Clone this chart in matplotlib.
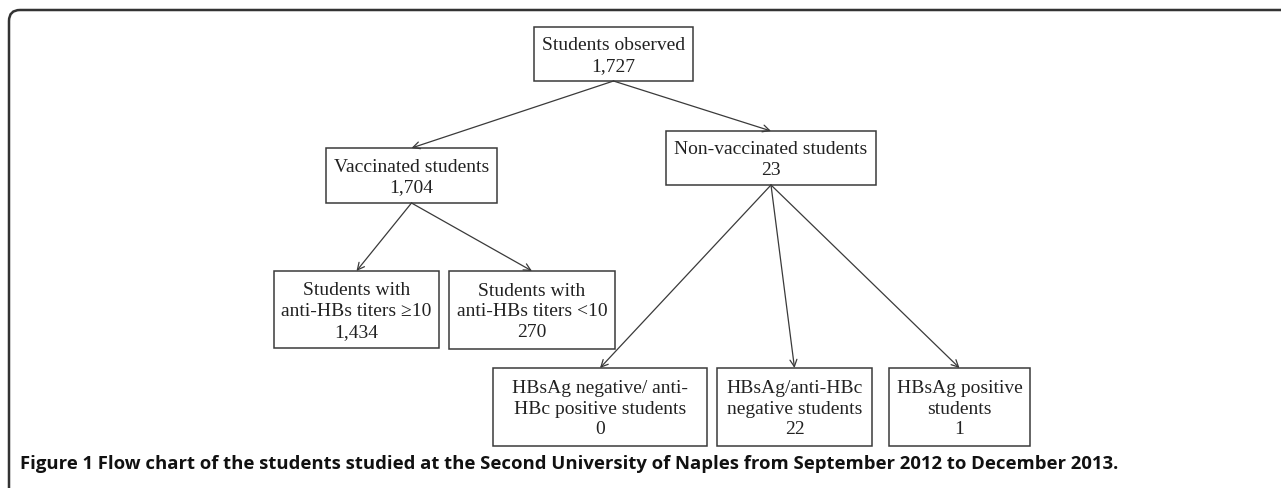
import matplotlib
matplotlib.use("Agg")
import matplotlib.pyplot as plt
from matplotlib.patches import Rectangle, FancyArrowPatch, PathPatch
from matplotlib.path import Path

# ---- data ----
node_labels = [
    "Students observed",
    "Vaccinated students",
    "Non-vaccinated students",
    "Students with\nanti-HBs titers \u226510",
    "Students with\nanti-HBs titers <10",
    "HBsAg negative/ anti-\nHBc positive students",
    "HBsAg/anti-HBc\nnegative students",
    "HBsAg positive\nstudents",
]
node_counts = ["1,727", "1,704", "23", "1,434", "270", "0", "22", "1"]
edges = [(0, 1), (0, 2), (1, 3), (1, 4), (2, 5), (2, 6), (2, 7)]
caption_bold = "Figure 1"
caption_text = " Flow chart of the students studied at the Second University of Naples from September 2012 to December 2013."

# ---- layout (pixel coordinates: x0, x1, y0, y1) ----
boxes = [
    (534, 693, 28, 82),
    (326, 497, 149, 204),
    (666, 876, 132, 186),
    (274, 439, 272, 349),
    (449, 615, 272, 350),
    (493, 707, 369, 447),
    (717, 872, 369, 447),
    (889, 1030, 369, 447),
]

W, H = 1281, 489
fig = plt.figure(figsize=(W / 100, H / 100), dpi=100)
ax = fig.add_axes([0, 0, 1, 1])
ax.set_xlim(0, W)
ax.set_ylim(H, 0)
ax.axis("off")

line_col = "#3a3a3a"
serif = ["Liberation Serif", "DejaVu Serif"]

for (x0, x1, y0, y1), lab, cnt in zip(boxes, node_labels, node_counts):
    ax.add_patch(Rectangle((x0, y0), x1 - x0, y1 - y0, fill=False,
                           edgecolor=line_col, lw=1.1))
    ax.text((x0 + x1) / 2, (y0 + y1) / 2 + 1, lab + "\n" + cnt,
            ha="center", va="center", fontsize=14, family=serif,
            color="#222222", linespacing=1.3)

for a, b in edges:
    xa = (boxes[a][0] + boxes[a][1]) / 2
    ya = boxes[a][3]
    xb = (boxes[b][0] + boxes[b][1]) / 2
    yb = boxes[b][2]
    ax.add_patch(FancyArrowPatch((xa, ya), (xb, yb),
                                 arrowstyle="->,head_length=5,head_width=2.5",
                                 color=line_col, lw=0.9,
                                 shrinkA=0, shrinkB=0, mutation_scale=1))

# frame (top + left with rounded corner)
verts = [(9, H + 5), (9, 22), (9, 11), (20, 11), (W + 5, 11)]
codes = [Path.MOVETO, Path.LINETO, Path.CURVE3, Path.CURVE3, Path.LINETO]
ax.add_patch(PathPatch(Path(verts, codes), fill=False, edgecolor="#333333", lw=1.8))

# caption
sans = ["Open Sans", "DejaVu Sans"]
t = ax.text(20, 469, caption_bold, fontsize=13.3, fontweight="bold", family=sans,
            ha="left", va="baseline", color="#111111")
fig.canvas.draw()
bb = t.get_window_extent()
inv = ax.transData.inverted()
xend = inv.transform((bb.x1, bb.y0))[0]
ax.text(xend, 469, caption_text, fontsize=13.3, fontweight="bold", family=sans,
        ha="left", va="baseline", color="#111111")

fig.savefig("out.png", dpi=100)
